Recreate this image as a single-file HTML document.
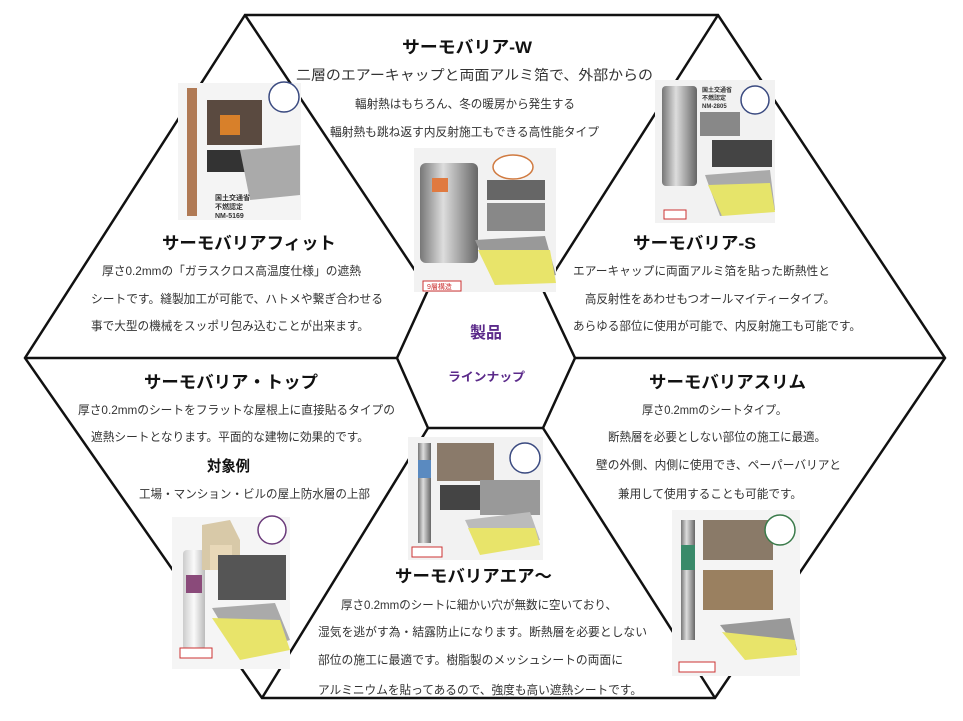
<!DOCTYPE html>
<html><head><meta charset="utf-8"><style>
html,body{margin:0;padding:0;background:#fff;}
svg{display:block;}
text{font-family:"Liberation Sans","Noto Sans CJK JP",sans-serif;fill:#333;}
.t{font-weight:bold;font-size:17px;fill:#111;}
.b{font-size:12px;}
</style></head><body>
<svg width="963" height="721" viewBox="0 0 963 721" xmlns="http://www.w3.org/2000/svg">
<defs>
<linearGradient id="roll" x1="0" x2="1"><stop offset="0" stop-color="#777"/><stop offset=".4" stop-color="#ddd"/><stop offset="1" stop-color="#666"/></linearGradient>
<linearGradient id="rollw" x1="0" x2="1"><stop offset="0" stop-color="#ccc"/><stop offset=".5" stop-color="#fafafa"/><stop offset="1" stop-color="#bbb"/></linearGradient>
</defs>
<g stroke="#111" stroke-width="2.5" fill="none" stroke-linejoin="miter">
<polygon points="245,15 718,15 945,358 715,698 262,698 25,358"/>
<polygon points="428,290 543,290 575,358 543,428 428,428 397,358"/>
<line x1="245" y1="15" x2="428" y2="290"/>
<line x1="718" y1="15" x2="543" y2="290"/>
<line x1="945" y1="358" x2="575" y2="358"/>
<line x1="25" y1="358" x2="397" y2="358"/>
<line x1="262" y1="698" x2="428" y2="428"/>
<line x1="715" y1="698" x2="543" y2="428"/>
</g>

<!-- images -->
<!-- Fit -->
<g>
<rect x="178" y="83" width="123" height="137" fill="#f4f4f4"/>
<rect x="187" y="88" width="10" height="128" fill="#b07a55"/>
<rect x="207" y="100" width="55" height="45" fill="#5a4a40"/><rect x="220" y="115" width="20" height="20" fill="#d8802a"/>
<circle cx="284" cy="97" r="15" fill="#fff" stroke="#3a4a80" stroke-width="1.5"/>
<rect x="207" y="150" width="45" height="22" fill="#333"/>
<polygon points="240,150 300,145 300,195 250,200" fill="#aaa"/>
<text x="215" y="200" style="font-size:7px;font-weight:bold">国土交通省</text>
<text x="215" y="209" style="font-size:7px;font-weight:bold">不燃認定</text>
<text x="215" y="218" style="font-size:7px;font-weight:bold">NM-5169</text>
</g>
<!-- W -->
<g>
<rect x="414" y="148" width="142" height="144" fill="#f2f2f2"/>
<rect x="420" y="163" width="58" height="100" rx="6" fill="url(#roll)"/>
<rect x="432" y="178" width="16" height="14" fill="#e07a40"/>
<ellipse cx="513" cy="167" rx="20" ry="12" fill="#fff" stroke="#d07a40" stroke-width="1.5"/>
<rect x="487" y="180" width="58" height="20" fill="#666"/>
<rect x="487" y="203" width="58" height="28" fill="#888"/>
<polygon points="475,240 545,236 556,275 495,285" fill="#999"/>
<polygon points="478,250 550,250 556,283 495,285" fill="#e8e46a"/>
<rect x="423" y="281" width="38" height="10" fill="#fff" stroke="#c33" stroke-width="1"/>
<text x="427" y="289" style="font-size:7px;fill:#c33">9層構造</text>
</g>
<!-- S -->
<g>
<rect x="655" y="80" width="120" height="143" fill="#f2f2f2"/>
<rect x="662" y="86" width="35" height="100" rx="4" fill="url(#roll)"/>
<circle cx="755" cy="100" r="14" fill="#fff" stroke="#3a4a80" stroke-width="1.5"/>
<text x="702" y="92" style="font-size:6px;font-weight:bold">国土交通省</text>
<text x="702" y="100" style="font-size:6px;font-weight:bold">不燃認定</text>
<text x="702" y="108" style="font-size:6px;font-weight:bold">NM-2805</text>
<rect x="700" y="112" width="40" height="24" fill="#888"/>
<rect x="712" y="140" width="60" height="27" fill="#444"/>
<polygon points="705,175 770,170 775,210 720,216" fill="#aaa"/>
<polygon points="708,185 770,183 775,212 722,216" fill="#e6e46a"/>
<rect x="664" y="210" width="22" height="9" fill="#fff" stroke="#c33"/>
</g>
<!-- Top -->
<g>
<rect x="172" y="517" width="118" height="152" fill="#f5f5f5"/>
<rect x="183" y="550" width="22" height="100" rx="4" fill="url(#rollw)"/>
<rect x="186" y="575" width="16" height="18" fill="#8a4a7a"/>
<polygon points="202,525 230,520 240,540 240,570 202,570" fill="#d8c9a8"/>
<rect x="210" y="545" width="22" height="25" fill="#e8d8b8"/>
<circle cx="272" cy="530" r="14" fill="#fff" stroke="#6a3a7a" stroke-width="1.5"/>
<rect x="218" y="555" width="68" height="45" fill="#555"/>
<polygon points="212,608 275,603 290,640 240,655" fill="#aaa"/>
<polygon points="212,618 280,620 290,650 240,660" fill="#e8e46a"/>
<rect x="180" y="648" width="32" height="10" fill="#fff" stroke="#c33"/>
</g>
<!-- Air -->
<g>
<rect x="408" y="437" width="135" height="123" fill="#f2f2f2"/>
<rect x="418" y="443" width="13" height="100" fill="url(#roll)"/>
<rect x="418" y="460" width="13" height="18" fill="#5a8ac0"/>
<rect x="437" y="443" width="57" height="38" fill="#8a7a6a"/>
<circle cx="525" cy="458" r="15" fill="#fff" stroke="#3a4a80" stroke-width="1.5"/>
<rect x="440" y="485" width="50" height="25" fill="#444"/>
<rect x="480" y="480" width="60" height="35" fill="#999"/>
<polygon points="465,520 530,512 540,540 480,552" fill="#bbb"/>
<polygon points="468,528 535,528 540,545 480,555" fill="#e8e46a"/>
<rect x="412" y="547" width="30" height="10" fill="#fff" stroke="#c33"/>
</g>
<!-- Slim -->
<g>
<rect x="672" y="510" width="128" height="166" fill="#f4f4f4"/>
<rect x="681" y="520" width="14" height="120" fill="url(#roll)"/>
<rect x="681" y="545" width="14" height="25" fill="#3a8a6a"/>
<rect x="703" y="520" width="70" height="40" fill="#8a7a68"/>
<circle cx="780" cy="530" r="15" fill="#fff" stroke="#3a7a4a" stroke-width="1.5"/>
<rect x="703" y="570" width="70" height="40" fill="#9a8060"/>
<polygon points="720,625 790,618 797,650 745,658" fill="#999"/>
<polygon points="722,632 795,640 797,655 745,660" fill="#e8e46a"/>
<rect x="679" y="662" width="36" height="10" fill="#fff" stroke="#c33"/>
</g>

<!-- text -->
<text class="t" x="402" y="53" textLength="130" lengthAdjust="spacingAndGlyphs">サーモバリア-W</text>
<text class="b" x="296" y="80" style="font-size:14px" textLength="357" lengthAdjust="spacingAndGlyphs">二層のエアーキャップと両面アルミ箔で、外部からの</text>
<text class="b" x="355" y="108" textLength="220" lengthAdjust="spacingAndGlyphs">輻射熱はもちろん、冬の暖房から発生する</text>
<text class="b" x="330" y="136" textLength="269" lengthAdjust="spacingAndGlyphs">輻射熱も跳ね返す内反射施工もできる高性能タイプ</text>

<text class="t" x="162" y="249" textLength="174" lengthAdjust="spacingAndGlyphs">サーモバリアフィット</text>
<text class="b" x="102" y="275" textLength="259" lengthAdjust="spacingAndGlyphs">厚さ0.2mmの「ガラスクロス高温度仕様」の遮熱</text>
<text class="b" x="91" y="303" textLength="292" lengthAdjust="spacingAndGlyphs">シートです。縫製加工が可能で、ハトメや繋ぎ合わせる</text>
<text class="b" x="91" y="330" textLength="278" lengthAdjust="spacingAndGlyphs">事で大型の機械をスッポリ包み込むことが出来ます。</text>

<text class="t" x="633" y="249" textLength="123" lengthAdjust="spacingAndGlyphs">サーモバリア-S</text>
<text class="b" x="573" y="275" textLength="257" lengthAdjust="spacingAndGlyphs">エアーキャップに両面アルミ箔を貼った断熱性と</text>
<text class="b" x="585" y="303" textLength="250" lengthAdjust="spacingAndGlyphs">高反射性をあわせもつオールマイティータイプ。</text>
<text class="b" x="573" y="330" textLength="288" lengthAdjust="spacingAndGlyphs">あらゆる部位に使用が可能で、内反射施工も可能です。</text>

<text x="470" y="338" style="font-size:16px;font-weight:bold;fill:#5b2a8a" textLength="32" lengthAdjust="spacingAndGlyphs">製品</text>
<text x="448" y="381" style="font-size:12px;font-weight:bold;fill:#5b2a8a" textLength="77" lengthAdjust="spacingAndGlyphs">ラインナップ</text>

<text class="t" x="144" y="388" textLength="174" lengthAdjust="spacingAndGlyphs">サーモバリア・トップ</text>
<text class="b" x="78" y="414" textLength="317" lengthAdjust="spacingAndGlyphs">厚さ0.2mmのシートをフラットな屋根上に直接貼るタイプの</text>
<text class="b" x="91" y="441" textLength="278" lengthAdjust="spacingAndGlyphs">遮熱シートとなります。平面的な建物に効果的です。</text>
<text class="t" x="207" y="471" style="font-size:15px" textLength="43" lengthAdjust="spacingAndGlyphs">対象例</text>
<text class="b" x="139" y="498" textLength="231" lengthAdjust="spacingAndGlyphs">工場・マンション・ビルの屋上防水層の上部</text>

<text class="t" x="649" y="388" textLength="157" lengthAdjust="spacingAndGlyphs">サーモバリアスリム</text>
<text class="b" x="642" y="414" textLength="145" lengthAdjust="spacingAndGlyphs">厚さ0.2mmのシートタイプ。</text>
<text class="b" x="608" y="441" textLength="218" lengthAdjust="spacingAndGlyphs">断熱層を必要としない部位の施工に最適。</text>
<text class="b" x="596" y="469" textLength="245" lengthAdjust="spacingAndGlyphs">壁の外側、内側に使用でき、ペーパーバリアと</text>
<text class="b" x="618" y="498" textLength="184" lengthAdjust="spacingAndGlyphs">兼用して使用することも可能です。</text>

<text class="t" x="395" y="582" textLength="157" lengthAdjust="spacingAndGlyphs">サーモバリアエア～</text>
<text class="b" x="341" y="609" textLength="276" lengthAdjust="spacingAndGlyphs">厚さ0.2mmのシートに細かい穴が無数に空いており、</text>
<text class="b" x="318" y="636" textLength="329" lengthAdjust="spacingAndGlyphs">湿気を逃がす為・結露防止になります。断熱層を必要としない</text>
<text class="b" x="318" y="664" textLength="305" lengthAdjust="spacingAndGlyphs">部位の施工に最適です。樹脂製のメッシュシートの両面に</text>
<text class="b" x="318" y="694" textLength="324" lengthAdjust="spacingAndGlyphs">アルミニウムを貼ってあるので、強度も高い遮熱シートです。</text>
</svg>
</body></html>
